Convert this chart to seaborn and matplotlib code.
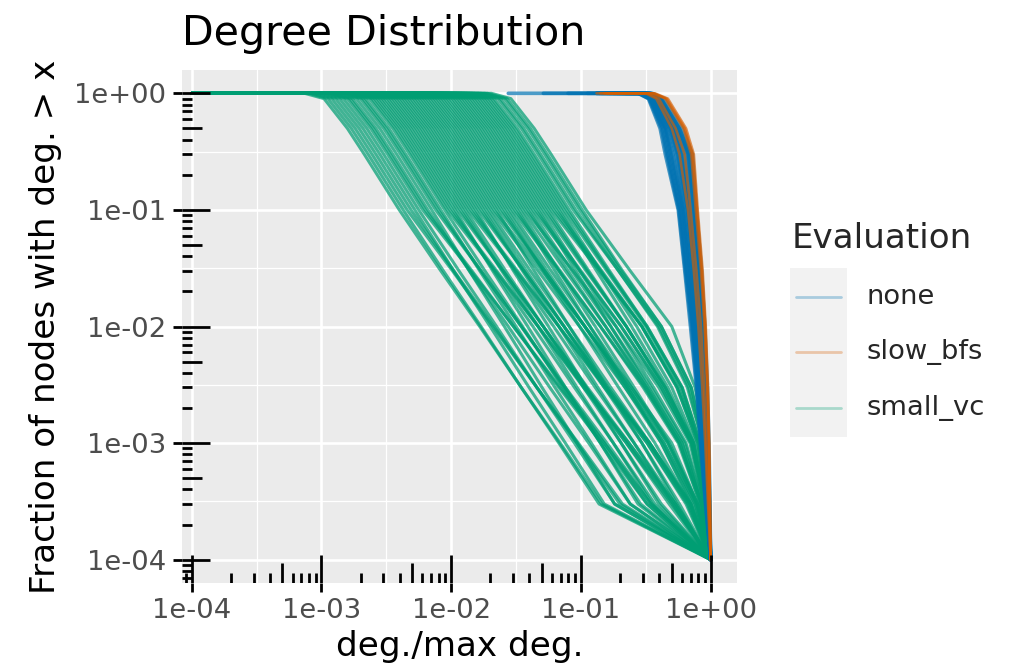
import matplotlib
matplotlib.use("Agg")
import matplotlib.pyplot as plt
import seaborn as sns
import pandas as pd
import numpy as np
from matplotlib.lines import Line2D
from matplotlib.patches import Rectangle
from matplotlib.ticker import FixedLocator, FuncFormatter, NullFormatter

EVALUATIONS = ["none", "slow_bfs", "small_vc"]
COLORS = {"none": "#0072B2", "slow_bfs": "#D55E00", "small_vc": "#009E73"}

FRAC_LEVELS = [1, 1, 0.9, 0.5, 0.3, 0.1, 0.03, 0.01, 3e-3, 1e-3, 3e-4]
# all curves end at the max-degree node
END_X, END_FRAC = 1.0, 1e-4

# log10(deg./max deg.) of each curve at FRAC_LEVELS
NONE_LOGX = [
    [-1.56, -0.56, -0.48, -0.39, -0.35, -0.25, -0.20, -0.156, -0.11, -0.08, -0.04],
    [-1.29, -0.55, -0.47, -0.37, -0.33, -0.24, -0.19, -0.14, -0.10, -0.07, -0.035],
    [-1.10, -0.555, -0.475, -0.38, -0.34, -0.245, -0.195, -0.148, -0.105, -0.075, -0.038],
    [-0.95, -0.545, -0.465, -0.36, -0.32, -0.23, -0.18, -0.135, -0.095, -0.065, -0.032],
    [-0.88, -0.54, -0.46, -0.35, -0.31, -0.22, -0.17, -0.13, -0.09, -0.06, -0.03],
    [-0.88, -0.535, -0.455, -0.345, -0.30, -0.215, -0.165, -0.125, -0.088, -0.058, -0.029],
    [-0.88, -0.53, -0.45, -0.34, -0.29, -0.21, -0.16, -0.12, -0.085, -0.055, -0.028],
    [-0.86, -0.52, -0.44, -0.32, -0.27, -0.20, -0.15, -0.11, -0.075, -0.05, -0.025],
    [-0.84, -0.515, -0.435, -0.315, -0.26, -0.19, -0.14, -0.105, -0.072, -0.048, -0.024],
    [-0.80, -0.51, -0.43, -0.31, -0.25, -0.18, -0.135, -0.10, -0.07, -0.045, -0.022],
    [-0.78, -0.505, -0.425, -0.30, -0.24, -0.175, -0.13, -0.095, -0.065, -0.042, -0.021],
    [-0.75, -0.50, -0.42, -0.29, -0.23, -0.17, -0.125, -0.09, -0.06, -0.04, -0.02],
    [-0.72, -0.495, -0.415, -0.285, -0.22, -0.165, -0.12, -0.085, -0.058, -0.038, -0.019],
    [-0.70, -0.49, -0.41, -0.28, -0.21, -0.16, -0.115, -0.08, -0.055, -0.035, -0.018],
    [-0.68, -0.48, -0.40, -0.27, -0.19, -0.15, -0.10, -0.07, -0.048, -0.03, -0.015],
    [-0.66, -0.475, -0.395, -0.26, -0.18, -0.14, -0.095, -0.065, -0.044, -0.028, -0.014],
    [-0.65, -0.47, -0.39, -0.25, -0.17, -0.13, -0.09, -0.06, -0.04, -0.025, -0.012],
    [-0.63, -0.465, -0.385, -0.245, -0.165, -0.125, -0.085, -0.055, -0.035, -0.021, -0.01],
    [-0.62, -0.46, -0.38, -0.24, -0.16, -0.12, -0.08, -0.05, -0.03, -0.018, -0.008],
    [-0.60, -0.45, -0.36, -0.22, -0.14, -0.11, -0.07, -0.045, -0.025, -0.013, -0.005],
]
SLOW_BFS_LOGX = [
    [-0.88, -0.50, -0.42, -0.30, -0.24, -0.175, -0.13, -0.095, -0.065, -0.042, -0.021],
    [-0.85, -0.48, -0.40, -0.27, -0.20, -0.155, -0.11, -0.075, -0.05, -0.032, -0.016],
    [-0.82, -0.45, -0.35, -0.21, -0.15, -0.115, -0.075, -0.048, -0.028, -0.015, -0.007],
    [-0.80, -0.44, -0.34, -0.20, -0.14, -0.105, -0.068, -0.042, -0.024, -0.013, -0.006],
    [-0.78, -0.43, -0.33, -0.19, -0.13, -0.10, -0.062, -0.038, -0.021, -0.011, -0.005],
]
SMALL_VC_LOGX = [
    [-4.0, -3.13, -2.98, -2.80, -2.67, -2.40, -2.08, -1.78, -1.46, -1.16, -0.84],
    [-4.0, -3.10, -2.95, -2.77, -2.64, -2.37, -2.06, -1.77, -1.46, -1.17, -0.86],
    [-4.0, -3.07, -2.92, -2.74, -2.61, -2.34, -1.99, -1.68, -1.34, -1.02, -0.68],
    [-4.0, -3.04, -2.89, -2.71, -2.58, -2.31, -1.98, -1.67, -1.34, -1.03, -0.70],
    [-4.0, -3.01, -2.86, -2.68, -2.55, -2.28, -1.98, -1.70, -1.40, -1.12, -0.82],
    [-4.0, -2.98, -2.83, -2.65, -2.52, -2.25, -1.94, -1.65, -1.34, -1.05, -0.74],
    [-4.0, -2.95, -2.80, -2.62, -2.49, -2.22, -1.85, -1.52, -1.16, -0.82, -0.46],
    [-4.0, -2.93, -2.78, -2.60, -2.47, -2.20, -1.84, -1.52, -1.17, -0.84, -0.49],
    [-4.0, -2.91, -2.76, -2.58, -2.45, -2.18, -1.86, -1.56, -1.24, -0.94, -0.62],
    [-4.0, -2.88, -2.73, -2.55, -2.42, -2.15, -1.86, -1.59, -1.30, -1.03, -0.74],
    [-4.0, -2.85, -2.70, -2.52, -2.39, -2.12, -1.77, -1.46, -1.12, -0.80, -0.46],
    [-4.0, -2.83, -2.68, -2.50, -2.37, -2.10, -1.77, -1.46, -1.13, -0.82, -0.49],
    [-4.0, -2.81, -2.66, -2.48, -2.35, -2.08, -1.78, -1.50, -1.20, -0.92, -0.62],
    [-4.0, -2.78, -2.63, -2.45, -2.32, -2.05, -1.74, -1.45, -1.14, -0.85, -0.54],
    [-4.0, -2.76, -2.61, -2.43, -2.30, -2.03, -1.66, -1.33, -0.97, -0.63, -0.27],
    [-4.0, -2.74, -2.59, -2.41, -2.28, -2.01, -1.65, -1.33, -0.98, -0.65, -0.30],
    [-4.0, -2.72, -2.57, -2.39, -2.26, -1.99, -1.67, -1.37, -1.05, -0.75, -0.43],
    [-4.0, -2.70, -2.55, -2.37, -2.24, -1.97, -1.68, -1.41, -1.12, -0.85, -0.56],
    [-4.0, -2.68, -2.53, -2.35, -2.22, -1.95, -1.60, -1.29, -0.95, -0.63, -0.29],
    [-4.0, -2.66, -2.51, -2.33, -2.20, -1.93, -1.60, -1.29, -0.96, -0.65, -0.32],
    [-4.0, -2.64, -2.49, -2.31, -2.18, -1.91, -1.61, -1.33, -1.03, -0.75, -0.45],
    [-4.0, -2.62, -2.47, -2.29, -2.16, -1.89, -1.58, -1.29, -0.98, -0.69, -0.38],
    [-4.0, -2.60, -2.45, -2.27, -2.14, -1.87, -1.50, -1.17, -0.81, -0.47, -0.15],
    [-4.0, -2.58, -2.43, -2.25, -2.12, -1.85, -1.49, -1.17, -0.82, -0.49, -0.18],
    [-4.0, -2.56, -2.41, -2.23, -2.10, -1.83, -1.51, -1.21, -0.89, -0.59, -0.27],
    [-4.0, -2.54, -2.39, -2.21, -2.08, -1.81, -1.52, -1.25, -0.96, -0.69, -0.40],
    [-4.0, -2.52, -2.37, -2.19, -2.06, -1.79, -1.44, -1.13, -0.79, -0.47, -0.16],
    [-4.0, -2.50, -2.35, -2.17, -2.04, -1.77, -1.44, -1.13, -0.80, -0.49, -0.19],
    [-4.0, -2.48, -2.33, -2.15, -2.02, -1.75, -1.45, -1.17, -0.87, -0.59, -0.29],
    [-4.0, -2.46, -2.31, -2.13, -2.00, -1.73, -1.42, -1.13, -0.82, -0.53, -0.24],
    [-4.0, -2.44, -2.29, -2.11, -1.98, -1.71, -1.39, -1.09, -0.77, -0.47, -0.17],
    [-4.0, -2.42, -2.27, -2.09, -1.96, -1.69, -1.33, -1.01, -0.66, -0.36, -0.12],
    [-4.0, -2.40, -2.25, -2.07, -1.94, -1.67, -1.30, -0.97, -0.61, -0.30, -0.10],
    [-4.0, -2.38, -2.23, -2.05, -1.92, -1.65, -1.36, -1.09, -0.80, -0.53, -0.26],
    [-4.0, -2.36, -2.21, -2.03, -1.90, -1.63, -1.28, -0.97, -0.63, -0.33, -0.11],
    [-4.0, -2.34, -2.19, -2.01, -1.88, -1.61, -1.28, -0.97, -0.64, -0.36, -0.12],
    [-4.0, -2.32, -2.17, -1.99, -1.86, -1.59, -1.29, -1.01, -0.71, -0.43, -0.16],
    [-4.0, -2.30, -2.15, -1.97, -1.84, -1.57, -1.26, -0.97, -0.66, -0.38, -0.14],
    [-4.0, -2.28, -2.13, -1.95, -1.82, -1.55, -1.23, -0.93, -0.61, -0.33, -0.10],
    [-4.0, -2.26, -2.11, -1.93, -1.80, -1.53, -1.17, -0.85, -0.52, -0.25, -0.08],
    [-4.0, -2.24, -2.09, -1.91, -1.78, -1.51, -1.16, -0.85, -0.51, -0.24, -0.07],
    [-4.0, -2.22, -2.07, -1.89, -1.76, -1.49, -1.20, -0.93, -0.64, -0.38, -0.15],
    [-4.0, -2.20, -2.05, -1.87, -1.74, -1.47, -1.17, -0.89, -0.59, -0.32, -0.10],
    [-4.0, -2.18, -2.03, -1.85, -1.72, -1.45, -1.12, -0.81, -0.49, -0.22, -0.07],
    [-4.0, -2.16, -2.01, -1.83, -1.70, -1.43, -1.06, -0.73, -0.40, -0.16, -0.05],
    [-4.0, -2.14, -1.99, -1.81, -1.68, -1.41, -1.10, -0.81, -0.50, -0.24, -0.08],
    [-4.0, -2.12, -1.97, -1.79, -1.66, -1.39, -1.07, -0.77, -0.46, -0.20, -0.06],
    [-4.0, -2.10, -1.95, -1.77, -1.64, -1.37, -1.01, -0.69, -0.38, -0.15, -0.05],
    [-4.0, -2.08, -1.93, -1.75, -1.62, -1.35, -1.00, -0.69, -0.38, -0.15, -0.04],
    [-4.0, -2.06, -1.91, -1.73, -1.60, -1.33, -1.04, -0.77, -0.48, -0.22, -0.07],
    [-4.0, -2.04, -1.89, -1.71, -1.58, -1.31, -1.01, -0.73, -0.44, -0.19, -0.06],
    [-4.0, -2.02, -1.87, -1.69, -1.56, -1.29, -0.96, -0.65, -0.35, -0.14, -0.04],
    [-4.0, -2.00, -1.85, -1.67, -1.54, -1.27, -0.95, -0.65, -0.35, -0.13, -0.04],
    [-4.0, -1.98, -1.83, -1.65, -1.52, -1.25, -0.94, -0.65, -0.36, -0.14, -0.04],
    [-4.0, -1.96, -1.81, -1.63, -1.50, -1.23, -0.86, -0.53, -0.25, -0.09, -0.03],
    [-4.0, -1.94, -1.79, -1.61, -1.48, -1.21, -0.85, -0.53, -0.26, -0.10, -0.03],
    [-4.0, -1.92, -1.77, -1.59, -1.46, -1.19, -0.84, -0.53, -0.26, -0.10, -0.03],
    [-4.0, -1.90, -1.75, -1.57, -1.44, -1.17, -0.88, -0.61, -0.33, -0.13, -0.04],
    [-4.0, -1.88, -1.73, -1.55, -1.42, -1.15, -0.85, -0.57, -0.30, -0.12, -0.04],
    [-4.0, -1.86, -1.71, -1.53, -1.40, -1.13, -0.80, -0.50, -0.23, -0.09, -0.03],
    [-4.0, -1.84, -1.69, -1.51, -1.38, -1.11, -0.79, -0.49, -0.22, -0.08, -0.03],
    [-4.0, -1.82, -1.67, -1.49, -1.36, -1.09, -0.78, -0.49, -0.22, -0.08, -0.025],
    [-4.0, -1.79, -1.64, -1.46, -1.33, -1.06, -0.71, -0.40, -0.17, -0.06, -0.02],
    [-4.0, -1.77, -1.62, -1.44, -1.31, -1.04, -0.71, -0.41, -0.18, -0.06, -0.02],
    [-4.0, -1.74, -1.59, -1.41, -1.28, -1.01, -0.69, -0.38, -0.15, -0.05, -0.02],
    [-4.0, -1.72, -1.57, -1.39, -1.26, -0.99, -0.68, -0.38, -0.15, -0.05, -0.015],
    [-4.0, -1.69, -1.54, -1.36, -1.23, -0.96, -0.62, -0.30, -0.12, -0.04, -0.01],
]

rows = []
for ev, curves in [("none", NONE_LOGX), ("slow_bfs", SLOW_BFS_LOGX), ("small_vc", SMALL_VC_LOGX)]:
    for i, logx in enumerate(curves):
        for lx, fr in zip(logx, FRAC_LEVELS):
            rows.append((ev, f"{ev}_{i}", 10.0 ** lx, fr))
        rows.append((ev, f"{ev}_{i}", END_X, END_FRAC))
df = pd.DataFrame(rows, columns=["evaluation", "graph", "x", "frac"])

sns.set_theme(style="darkgrid", rc={"axes.facecolor": "#EBEBEB", "grid.color": "white"})
plt.rcParams["font.family"] = ["DejaVu Sans"]

W, H = 1013, 667
fig = plt.figure(figsize=(W / 100, H / 100), dpi=100)
# panel placed like the ggplot original (pixels)
px_l, px_r, px_t, px_b = 181.7, 737.3, 70, 583
ax = fig.add_axes([px_l / W, 1 - px_b / H, (px_r - px_l) / W, (px_b - px_t) / H])

# draw order: small_vc, none, slow_bfs
for ev, lw, alpha in [("small_vc", 2.2, 0.72), ("none", 2.6, 0.7), ("slow_bfs", 1.9, 0.65)]:
    sns.lineplot(data=df[df["evaluation"] == ev], x="x", y="frac", units="graph",
                 estimator=None, sort=False, color=COLORS[ev], lw=lw, alpha=alpha,
                 legend=False, ax=ax)

ax.set_xscale("log")
ax.set_yscale("log")
ax.set_xlim(10 ** -4.077, 10 ** 0.205)
ax.set_ylim(10 ** -4.2, 10 ** 0.2)

decades = [1e-4, 1e-3, 1e-2, 1e-1, 1e0]
halves = [10 ** -3.5, 10 ** -2.5, 10 ** -1.5, 10 ** -0.5]
fmt = FuncFormatter(lambda v, p: f"{v:.0e}")
for axis in (ax.xaxis, ax.yaxis):
    axis.set_major_locator(FixedLocator(decades))
    axis.set_minor_locator(FixedLocator(halves))
    axis.set_major_formatter(fmt)
    axis.set_minor_formatter(NullFormatter())
ax.grid(which="major", color="white", lw=1.9)
ax.grid(which="minor", color="white", lw=0.9)
ax.set_axisbelow(True)
for s in ax.spines.values():
    s.set_visible(False)
ax.tick_params(which="major", direction="out", length=6.5, width=2.0, color="black",
               labelsize=19.7, labelcolor="#4D4D4D", pad=4.5, bottom=True, left=True)
ax.tick_params(which="minor", length=0)

# log ticks inside the panel (annotation_logticks)
ax_w, ax_h = px_r - px_l, px_b - px_t
for k in range(-5, 1):
    for m in range(1, 10):
        v = m * 10.0 ** k
        L = 28 if m == 1 else (20 if m == 5 else 10.5)
        ax.plot([v, v], [0, L / ax_h], transform=ax.get_xaxis_transform(),
                color="black", lw=2.0, solid_capstyle="butt", zorder=6)
        ax.plot([0, L / ax_w], [v, v], transform=ax.get_yaxis_transform(),
                color="black", lw=2.0, solid_capstyle="butt", zorder=6)

ax.set_title("Degree Distribution", loc="left", fontsize=29.6, pad=18, color="black")
ax.set_xlabel("deg./max deg.", fontsize=24.6, color="black", labelpad=4)
ax.set_ylabel("Fraction of nodes with deg. > x", fontsize=24.6, color="black")
ax.yaxis.set_label_coords(-0.215, 0.5)

# legend, drawn like the ggplot guide
fig.text(791.7 / W, 1 - 247.7 / H, "Evaluation", fontsize=24.6, va="baseline", ha="left")
fig.patches.append(Rectangle((790 / W, 1 - 436.7 / H), 56.7 / W, 168.4 / H,
                             transform=fig.transFigure, facecolor="#F2F2F2",
                             edgecolor="none", zorder=0))
for ev, ky in zip(EVALUATIONS, [296.7, 352.3, 408.3]):
    fig.lines.append(Line2D([796 / W, 841 / W], [1 - ky / H, 1 - ky / H],
                            transform=fig.transFigure, color=COLORS[ev], alpha=0.3, lw=2.0))
    fig.text(866 / W, 1 - ky / H, ev, fontsize=19.7, va="center", ha="left")

fig.savefig("out.png", dpi=100)
plt.close(fig)
